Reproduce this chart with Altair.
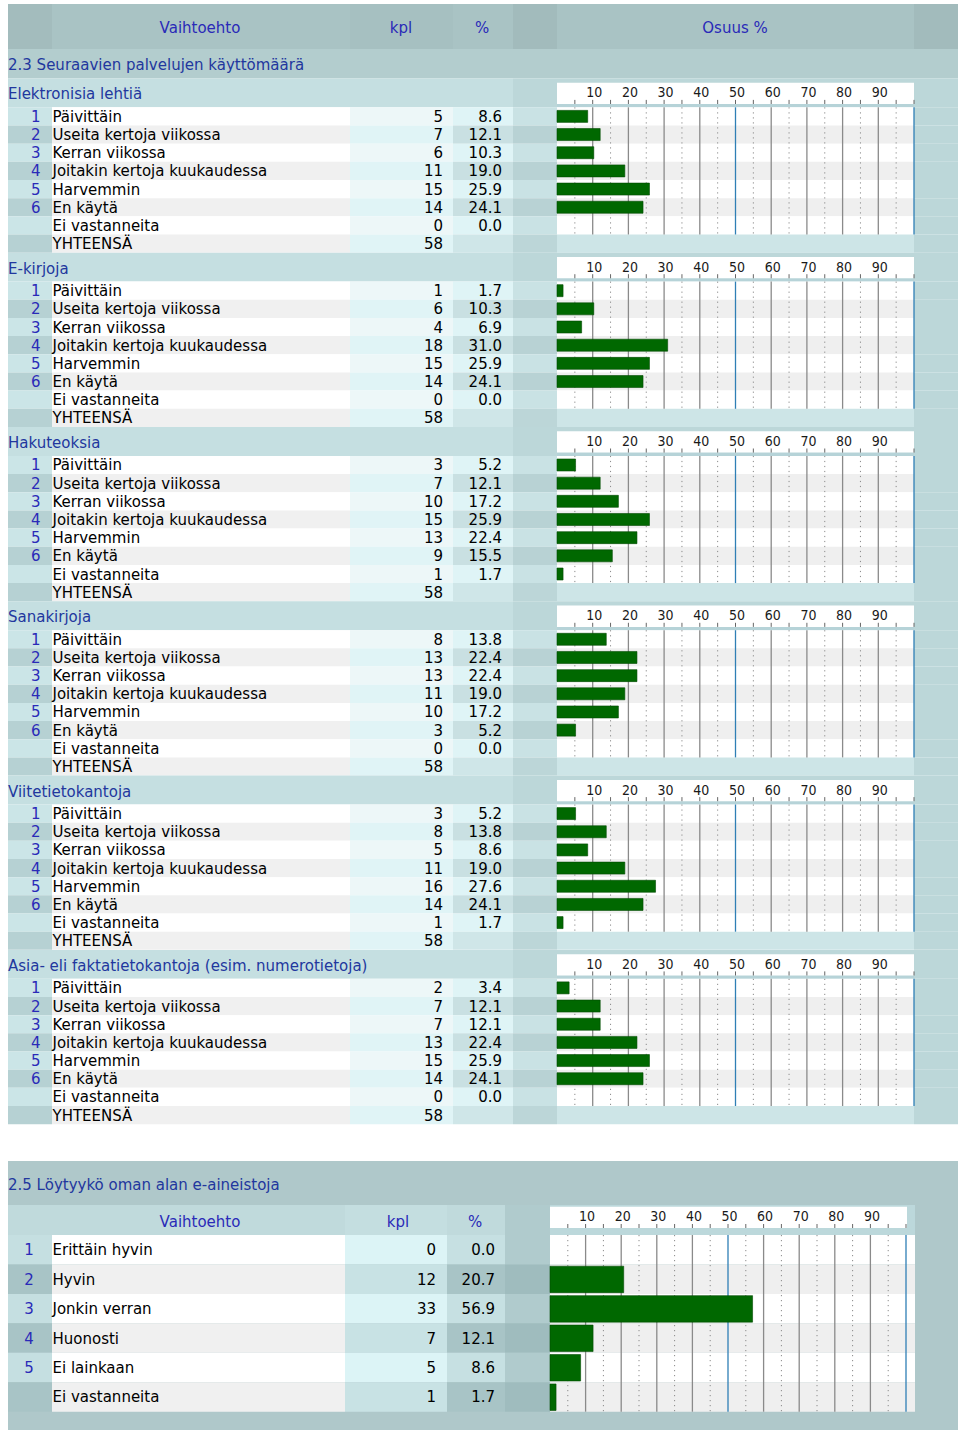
import altair as alt
import pandas as pd

W, H = 960, 1431

# ---------------- data ----------------
TITLE_1 = "2.3 Seuraavien palvelujen käyttömäärä"
HEADER_1 = ["Vaihtoehto", "kpl", "%", "Osuus %"]
SECTIONS = [
    "Elektronisia lehtiä",
    "E-kirjoja",
    "Hakuteoksia",
    "Sanakirjoja",
    "Viitetietokantoja",
    "Asia- eli faktatietokantoja (esim. numerotietoja)",
]
OPTIONS = [
    "Päivittäin",
    "Useita kertoja viikossa",
    "Kerran viikossa",
    "Joitakin kertoja kuukaudessa",
    "Harvemmin",
    "En käytä",
    "Ei vastanneita",
]
OPTION_NUMS = ["1", "2", "3", "4", "5", "6", ""]
TOTAL_LABEL = "YHTEENSÄ"
COUNTS = [
    [5, 7, 6, 11, 15, 14, 0],
    [1, 6, 4, 18, 15, 14, 0],
    [3, 7, 10, 15, 13, 9, 1],
    [8, 13, 13, 11, 10, 3, 0],
    [3, 8, 5, 11, 16, 14, 1],
    [2, 7, 7, 13, 15, 14, 0],
]
PCTS = [
    [8.6, 12.1, 10.3, 19.0, 25.9, 24.1, 0.0],
    [1.7, 10.3, 6.9, 31.0, 25.9, 24.1, 0.0],
    [5.2, 12.1, 17.2, 25.9, 22.4, 15.5, 1.7],
    [13.8, 22.4, 22.4, 19.0, 17.2, 5.2, 0.0],
    [5.2, 13.8, 8.6, 19.0, 27.6, 24.1, 1.7],
    [3.4, 12.1, 12.1, 22.4, 25.9, 24.1, 0.0],
]
TOTALS = [58, 58, 58, 58, 58, 58]

TITLE_2 = "2.5 Löytyykö oman alan e-aineistoja"
HEADER_2 = ["Vaihtoehto", "kpl", "%"]
OPTIONS_2 = ["Erittäin hyvin", "Hyvin", "Jonkin verran", "Huonosti", "Ei lainkaan", "Ei vastanneita"]
OPTION_NUMS_2 = ["1", "2", "3", "4", "5", ""]
COUNTS_2 = [0, 12, 33, 7, 5, 1]
PCTS_2 = [0.0, 20.7, 56.9, 12.1, 8.6, 1.7]

AXIS_LABELS = [10, 20, 30, 40, 50, 60, 70, 80, 90]
GRID_SOLID = [10, 20, 30, 40, 60, 70, 80, 90]
GRID_BLUE = [50, 100]
GRID_DOTTED = [5, 15, 25, 35, 45, 55, 65, 75, 85, 95]
TICKS = [5, 10, 15, 20, 25, 30, 35, 40, 45, 50, 55, 60, 65, 70, 75, 80, 85, 90, 95, 100]

# ---------------- layout / style ----------------
BLUE_TXT = "#2a2ab8"
TITLE_TXT = "#22379e"
FONT = "DejaVu Sans"
TICK_FONT = "Liberation Sans Narrow, DejaVu Sans Condensed, Liberation Sans"
FS = 15

TC = [8, 52, 350, 453, 513, 557, 914, 958]
HEAD_COLORS = ["#a3bcbd", "#a9c3c4", "#a6c0c1", "#a9c3c4", "#a2bbbc", "#a9c3c4", "#a2bbbc"]
ODD_1 = ["#cbe5e7", "#ffffff", "#edf7f8", "#dff4f6", "#c9e2e4", "#ffffff", "#bcd7d9"]
EVEN_1 = ["#b6d1d3", "#f0f0f0", "#e0f4f6", "#c9e0e2", "#b8d2d4", "#efefef", "#bcd7d9"]
TOT_1 = ["#b6d1d3", "#f0f0f0", "#e0f4f6", "#cfe6e8", "#bcd6d8", "#cde5e7", "#bcd7d9"]
SEC0, SEC_STEP, SEC_H, ROW_H = 78.4, 174.3, 28.9, 18.17

BC = [8, 52, 345, 447, 505, 550, 915, 958]
ODD_2 = ["#c5dfe1", "#ffffff", "#dcf4f6", "#c6e0e2", "#b0cbcd", "#ffffff", "#afc8ca"]
EVEN_2 = ["#a8c4c6", "#f0f0f0", "#c8e2e4", "#a8c4c6", "#9fbcbe", "#efefef", "#afc8ca"]
B_TOP, B_HEAD_Y, B_ROW0, B_ROW_H, B_BOTTOM = 1161, 1205, 1235, 29.45, 1430

cells, t_left, t_right, t_center = [], [], [], []


def cell(x0, x1, y0, y1, c):
    cells.append(dict(x=x0, x2=x1, y=y0, y2=y1, c=c))


def txt(lst, x, y, t, c="#000000", s=FS):
    lst.append(dict(x=x, y=y, t=t, c=c, s=s))


bars1, bars2 = [], []
grid1, grid2, dots1, dots2, ticks1, ticks2, tl1, tl2 = [], [], [], [], [], [], [], []

# header of table 1
for i in range(7):
    cell(TC[i], TC[i + 1], 4, 49, HEAD_COLORS[i])
txt(t_center, 200, 27.5, HEADER_1[0], BLUE_TXT)
txt(t_center, 401, 27.5, HEADER_1[1], BLUE_TXT)
txt(t_center, 482, 27.5, HEADER_1[2], BLUE_TXT)
txt(t_center, 735, 27.5, HEADER_1[3], BLUE_TXT)
cell(8, 958, 49, SEC0, "#b3cdce")
txt(t_left, 8, 65, TITLE_1, TITLE_TXT)

for k, name in enumerate(SECTIONS):
    T = SEC0 + k * SEC_STEP
    cell(8, 513, T, T + SEC_H, "#c5dfe1")
    cell(513, 958, T, T + SEC_H, "#bcd7d9")
    cell(557, 914, T + SEC_H - 3.3, T + SEC_H, "#b6d3d8")
    cell(557, 914, T + 4.3, T + 25.6, "#ffffff")
    txt(t_left, 8, T + 16, name, TITLE_TXT)
    for v in AXIS_LABELS:
        tl1.append(dict(p=v, y=T + 15, t=str(v)))
    for v in TICKS:
        ticks1.append(dict(p=v, y=T + 21.5, y2=T + 25.6))
    r0 = T + SEC_H
    for i in range(8):
        y0 = r0 + i * ROW_H
        cols = TOT_1 if i == 7 else (ODD_1 if i % 2 == 0 else EVEN_1)
        for j in range(7):
            cell(TC[j], TC[j + 1], y0, y0 + ROW_H, cols[j])
        yc = y0 + ROW_H / 2 + 0.5
        if i < 7:
            if OPTION_NUMS[i]:
                txt(t_right, 40.5, yc, OPTION_NUMS[i], BLUE_TXT)
            txt(t_left, 52.5, yc, OPTIONS[i])
            txt(t_right, 443, yc, str(COUNTS[k][i]))
            txt(t_right, 502, yc, f"{PCTS[k][i]:.1f}")
            if PCTS[k][i] > 0:
                bars1.append(dict(z=0, p=PCTS[k][i], y=yc - 6.5, y2=yc + 5.5))
        else:
            txt(t_left, 52.5, yc, TOTAL_LABEL)
            txt(t_right, 443, yc, str(TOTALS[k]))
    g0, g1 = r0, r0 + 7 * ROW_H
    for v in GRID_SOLID:
        grid1.append(dict(p=v, y=g0, y2=g1, c="#8a8a8a"))
    for v in GRID_BLUE:
        grid1.append(dict(p=v, y=g0, y2=g1, c="#2f7fb5"))
    for v in GRID_DOTTED:
        dots1.append(dict(p=v, y=g0, y2=g1))

# ---------------- table 2 ----------------
cell(8, 958, B_TOP, B_BOTTOM, "#afc8ca")
txt(t_left, 8, 1185, TITLE_2, TITLE_TXT)
cell(8, 505, B_HEAD_Y, B_ROW0, "#c0dadc")
cell(345, 447, B_HEAD_Y, B_ROW0, "#c4dee0")
cell(505, 550, B_HEAD_Y, B_ROW0, "#b0cbcd")
cell(550, 915, B_HEAD_Y, B_ROW0, "#bcd8db")
cell(550, 907, 1206.7, 1228, "#ffffff")
txt(t_center, 200, 1221.5, HEADER_2[0], BLUE_TXT)
txt(t_center, 398, 1221.5, HEADER_2[1], BLUE_TXT)
txt(t_center, 475, 1221.5, HEADER_2[2], BLUE_TXT)
for v in AXIS_LABELS:
    tl2.append(dict(p=v, y=1216.7, t=str(v)))
for v in TICKS:
    ticks2.append(dict(p=v, y=1224, y2=1228))
for i in range(6):
    y0 = B_ROW0 + i * B_ROW_H
    cols = ODD_2 if i % 2 == 0 else EVEN_2
    for j in range(7):
        cell(BC[j], BC[j + 1], y0, y0 + B_ROW_H, cols[j])
    yc = y0 + B_ROW_H / 2 + 0.5
    if OPTION_NUMS_2[i]:
        txt(t_center, 29, yc, OPTION_NUMS_2[i], BLUE_TXT)
    txt(t_left, 52.5, yc, OPTIONS_2[i])
    txt(t_right, 436, yc, str(COUNTS_2[i]))
    txt(t_right, 495, yc, f"{PCTS_2[i]:.1f}")
    if PCTS_2[i] > 0:
        bars2.append(dict(z=0, p=PCTS_2[i], y=yc - 13.5, y2=yc + 13))
g0, g1 = B_ROW0, B_ROW0 + 6 * B_ROW_H
for v in GRID_SOLID:
    grid2.append(dict(p=v, y=g0, y2=g1, c="#8a8a8a"))
for v in GRID_BLUE:
    grid2.append(dict(p=v, y=g0, y2=g1, c="#2f7fb5"))
for v in GRID_DOTTED:
    dots2.append(dict(p=v, y=g0, y2=g1))

# ---------------- scales ----------------
XS = alt.Scale(domain=[0, W], range=[0, W], nice=False, zero=False)
YS = alt.Scale(domain=[0, H], range=[0, H], nice=False, zero=False)
P1 = alt.Scale(domain=[0, 100], range=[557, 914], nice=False)
P2 = alt.Scale(domain=[0, 100], range=[550, 906], nice=False)


def Y():
    return alt.Y("y:Q", scale=YS, axis=None)


rect_layer = alt.Chart(pd.DataFrame(cells)).mark_rect().encode(
    x=alt.X("x:Q", scale=XS, axis=None), x2="x2:Q", y=Y(), y2="y2:Q",
    color=alt.Color("c:N", scale=None),
)


def grid_layers(grid, dots, ticks, tls, bars, ps, bar_stroke):
    out = []
    out.append(alt.Chart(pd.DataFrame(dots)).mark_rule(
        color="#8a8a8a", strokeWidth=1, strokeDash=[1.2, 3.8]).encode(
        x=alt.X("p:Q", scale=ps, axis=None), y=Y(), y2="y2:Q"))
    out.append(alt.Chart(pd.DataFrame(grid)).mark_rule(strokeWidth=1.3).encode(
        x=alt.X("p:Q", scale=ps, axis=None), y=Y(), y2="y2:Q",
        color=alt.Color("c:N", scale=None)))
    out.append(alt.Chart(pd.DataFrame(ticks)).mark_rule(
        color="#666666", strokeWidth=1).encode(
        x=alt.X("p:Q", scale=ps, axis=None), y=Y(), y2="y2:Q"))
    out.append(alt.Chart(pd.DataFrame(tls)).mark_text(
        align="center", baseline="middle", font=TICK_FONT, fontSize=14,
        color="#1a1a1a", dx=1.5).encode(
        x=alt.X("p:Q", scale=ps, axis=None), y=Y(), text="t:N"))
    out.append(alt.Chart(pd.DataFrame(bars)).mark_rect(
        color="#006800", stroke="#004a00", strokeWidth=bar_stroke).encode(
        x=alt.X("z:Q", scale=ps, axis=None), x2="p:Q", y=Y(), y2="y2:Q"))
    return out


def text_layer(rows, align):
    return alt.Chart(pd.DataFrame(rows)).mark_text(
        align=align, baseline="middle", font=FONT).encode(
        x=alt.X("x:Q", scale=XS, axis=None), y=Y(), text="t:N",
        color=alt.Color("c:N", scale=None), size=alt.Size("s:Q", scale=None))


layers = [rect_layer]
layers += grid_layers(grid1, dots1, ticks1, tl1, bars1, P1, 0.6)
layers += grid_layers(grid2, dots2, ticks2, tl2, bars2, P2, 0.6)
layers += [text_layer(t_left, "left"), text_layer(t_right, "right"), text_layer(t_center, "center")]

chart = alt.layer(*layers).resolve_scale(
    x="independent", y="independent", color="independent", size="independent"
).properties(
    width=W, height=H, padding=0, background="#ffffff",
    autosize=alt.AutoSizeParams(type="none"),
).configure_view(stroke=None)

chart.save("out.html", embed_options={"renderer": "svg", "actions": False})
